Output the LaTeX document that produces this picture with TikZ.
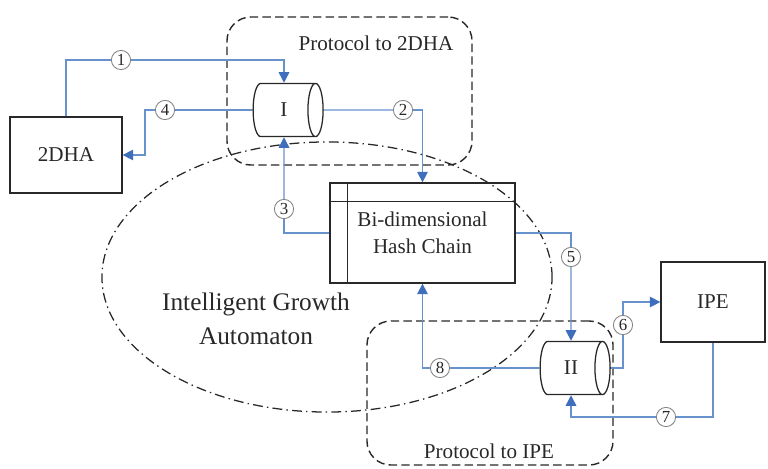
\documentclass[tikz,border=0pt]{standalone}
\usepackage{fontspec}
\setmainfont{Liberation Serif}
\usetikzlibrary{shapes.geometric,arrows.meta,positioning,calc}
\definecolor{flowline}{RGB}{104,146,204}
\definecolor{flowhead}{RGB}{62,110,188}
\definecolor{inkgray}{RGB}{40,40,40}

\begin{document}
\begin{tikzpicture}[x=0.025cm, y=-0.025cm,
    entity/.style={rectangle, draw=inkgray, line width=0.9pt, text=inkgray, font=\fontsize{15}{19}\selectfont, align=center},
    store/.style={cylinder, draw=inkgray, line width=0.9pt, fill=white, aspect=1.1, minimum height=1.75cm, minimum width=1.33cm, inner sep=0pt, text=inkgray, font=\fontsize{15}{19}\selectfont},
    proto/.style={rectangle, rounded corners=0.6cm, draw=inkgray, line width=1pt, dash pattern=on 6pt off 3pt},
    automaton/.style={ellipse, draw=inkgray, line width=0.9pt, dash pattern=on 7pt off 3pt on 1pt off 3pt},
    num/.style={circle, draw=gray, fill=white, line width=0.6pt, minimum size=0.48cm, inner sep=0pt, text=inkgray, font=\fontsize{12}{12}\selectfont},
    lbl/.style={text=inkgray, font=\fontsize{15}{19}\selectfont, align=center},
    flow/.style={draw=flowline, line width=1pt},
    flowarr/.style={flow, -{Triangle[width=7.5pt,length=7.5pt,color=flowhead]}}
]
\useasboundingbox (0,0) rectangle (768,468);

% Automaton and protocol regions
\node[automaton, minimum width=11.25cm, minimum height=6.75cm] (iga) at (327,277) {};
\node[lbl, font=\fontsize{18}{24}\selectfont] (igatext) at (256,319) {Intelligent Growth\\Automaton};
\node[proto, minimum width=6.125cm, minimum height=3.7cm] (p2dha) at (349.5,91) {};
\node[lbl] (p2dhatext) at (376,43) {Protocol to 2DHA};
\node[proto, minimum width=6.15cm, minimum height=3.6cm] (pipe) at (490,393) {};
\node[lbl] (pipetext) at (489,451) {Protocol to IPE};

% Entities
\node[entity, minimum width=2.8cm, minimum height=1.9cm] (dha) at (66,155) {2DHA};
\node[entity, minimum width=2.6cm, minimum height=2cm] (ipe) at (713,302) {IPE};
\node[entity, minimum width=4.625cm, minimum height=2.5cm] (hash) at (422.5,233) {Bi-dimensional\\Hash Chain};
\draw[inkgray, line width=0.9pt] ($(hash.north west)+(18,0)$) -- ($(hash.south west)+(18,0)$);
\draw[inkgray, line width=0.9pt] ($(hash.north west)+(0,19)$) -- ($(hash.north east)+(0,19)$);
\node[store] (cylI) at (284,110) {I};
\node[store] (cylII) at (571,368) {II};

% Step numbers
\node[num] (n1) at (121,60) {1};
\node[num] (n2) at (403,110) {2};
\node[num] (n3) at (284,209) {3};
\node[num] (n4) at (165,110) {4};
\node[num] (n5) at (571,257) {5};
\node[num] (n6) at (623,325) {6};
\node[num] (n7) at (666,417) {7};
\node[num] (n8) at (440,368) {8};
\coordinate (bend4) at (145,155);

% Message flows
\draw[flow] (dha.north) |- (n1);
\draw[flowarr] (n1) -| (cylI.north);
\draw[flow] (cylI.east) -- (n2);
\draw[flowarr] (n2) -| (hash.north);
\draw[flow] (hash.west) -| (n3);
\draw[flowarr] (n3) -- (cylI.south);
\draw[flow] (cylI.west) -- (n4);
\draw[flowarr] (n4) -| (bend4) -- (dha.east);
\draw[flow] (hash.east) -| (n5);
\draw[flowarr] (n5) -- (cylII.north);
\draw[flow] (cylII.east) -| (n6);
\draw[flowarr] (n6) |- (ipe.west);
\draw[flow] (ipe.south) |- (n7);
\draw[flowarr] (n7) -| (cylII.south);
\draw[flow] (cylII.west) -- (n8);
\draw[flowarr] (n8) -| (hash.south);
\end{tikzpicture}
\end{document}
